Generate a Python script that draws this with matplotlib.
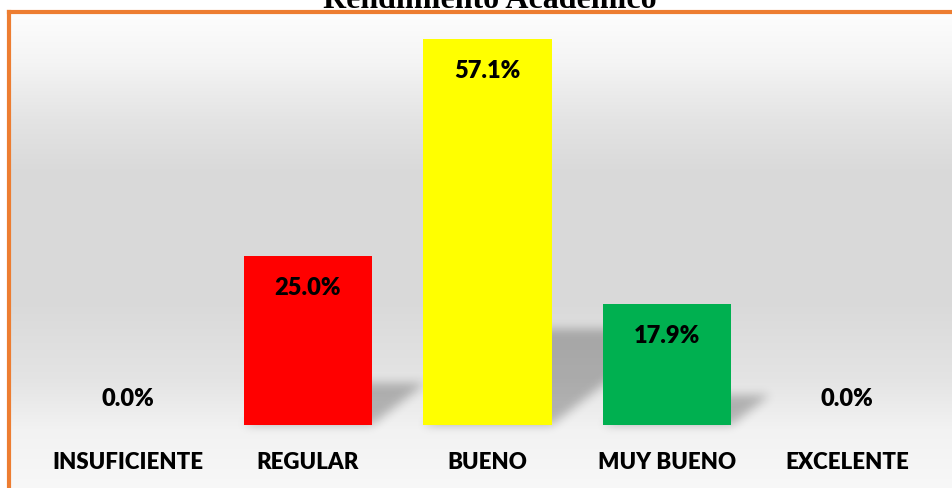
import numpy as np
import matplotlib
matplotlib.use("Agg")
import matplotlib.pyplot as plt
from matplotlib.path import Path
from matplotlib.lines import Line2D

# %% Data
categorias = ["INSUFICIENTE", "REGULAR", "BUENO", "MUY BUENO", "EXCELENTE"]
porcentajes = [0.0, 25.0, 57.1, 17.9, 0.0]
colores = ["#FF0000", "#FF0000", "#FFFF00", "#00B050", "#00B050"]
titulo = "Rendimiento Académico"

W, H = 952, 489
fig = plt.figure(figsize=(W / 100, H / 100), dpi=100)

# background (gradient + shadows + border) in pixel coords
bg = fig.add_axes([0, 0, 1, 1], zorder=0)
bg.set_xlim(0, W)
bg.set_ylim(0, H)
bg.axis("off")

stops_y = [0, 14, 60, 120, 175, 300, 380, 430, 489]
stops_v = [255, 253, 245, 228, 217, 217, 228, 242, 248]
grey = np.interp(np.arange(H), stops_y, stops_v) / 255.0
img = np.ones((H, W, 3))
img[:, :, :] = grey[:, None, None]
img[:12, :, :] = 1.0
img[:, :8, :] = 1.0
bg.imshow(img, extent=[0, W, 0, H], origin="upper", aspect="auto",
          interpolation="bilinear")

# main axes
ax = fig.add_axes([38 / W, 63 / H, (937 - 38) / W, (425 - 19.4) / H], zorder=1)
ax.patch.set_alpha(0)
x = np.arange(len(categorias))
ax.set_xlim(-0.5, len(categorias) - 0.5)
ax.set_ylim(0, 60)
bars = ax.bar(x, porcentajes, width=0.712, color=colores, zorder=2)

# perspective shadows, computed from bar geometry
gx, gy = np.meshgrid(np.arange(W) + 0.5, np.arange(H) + 0.5)
pts = np.column_stack([gx.ravel(), gy.ravel()])
mask = np.zeros(H * W)
for b in bars:
    (x0, y0), (x1, y1) = ax.transData.transform([(b.get_x(), 0),
                                                  (b.get_x() + b.get_width(), b.get_height())])
    h = y1 - y0
    if h < 1:
        continue
    dx, dy = 0.32 * h, 0.25 * h
    poly = Path([(x0, y0), (x1, y0), (x1 + dx, y0 + dy), (x0 + dx, y0 + dy), (x0, y0)])
    mask = np.maximum(mask, poly.contains_points(pts).astype(float))
mask = mask.reshape(H, W)
k = np.exp(-0.5 * (np.arange(-12, 13) / 5.0) ** 2)
k /= k.sum()
for i in range(H):
    mask[i] = np.convolve(mask[i], k, mode="same")
for j in range(W):
    mask[:, j] = np.convolve(mask[:, j], k, mode="same")
shadow = np.zeros((H, W, 4))
shadow[:, :, 3] = mask * 0.25
bg.imshow(shadow, extent=[0, W, 0, H], origin="lower", aspect="auto", zorder=2)

# orange frame
fig.add_artist(Line2D([9 / W, 9 / W], [0, (H - 12.5) / H], color="#ED7D31", lw=3, transform=fig.transFigure))
fig.add_artist(Line2D([9 / W, 1], [(H - 12.5) / H, (H - 12.5) / H], color="#ED7D31", lw=3,
                      transform=fig.transFigure, solid_capstyle="projecting"))

# value labels
lbl = dict(ha="center", va="center", fontsize=17, fontweight="heavy", family="Lato", zorder=3)
for xi, v in zip(x, porcentajes):
    if v > 0:
        ax.annotate(f"{v:.1f}%", (xi, v), xytext=(0, -31 * 0.72), textcoords="offset points", **lbl)
    else:
        ax.annotate(f"{v:.1f}%", (xi, 0), xytext=(0, 27 * 0.72), textcoords="offset points", **lbl)

ax.set_xticks(x)
ax.set_xticklabels(categorias, fontsize=16, fontweight="heavy", family="Lato")
ax.tick_params(axis="x", length=0, pad=19)
ax.set_yticks([])
for s in ax.spines.values():
    s.set_visible(False)

fig.text(490 / W, (H - 8) / H, titulo, ha="center", va="baseline", fontsize=23,
         fontweight="bold", family="Liberation Serif")

fig.savefig("out.png", dpi=100)
